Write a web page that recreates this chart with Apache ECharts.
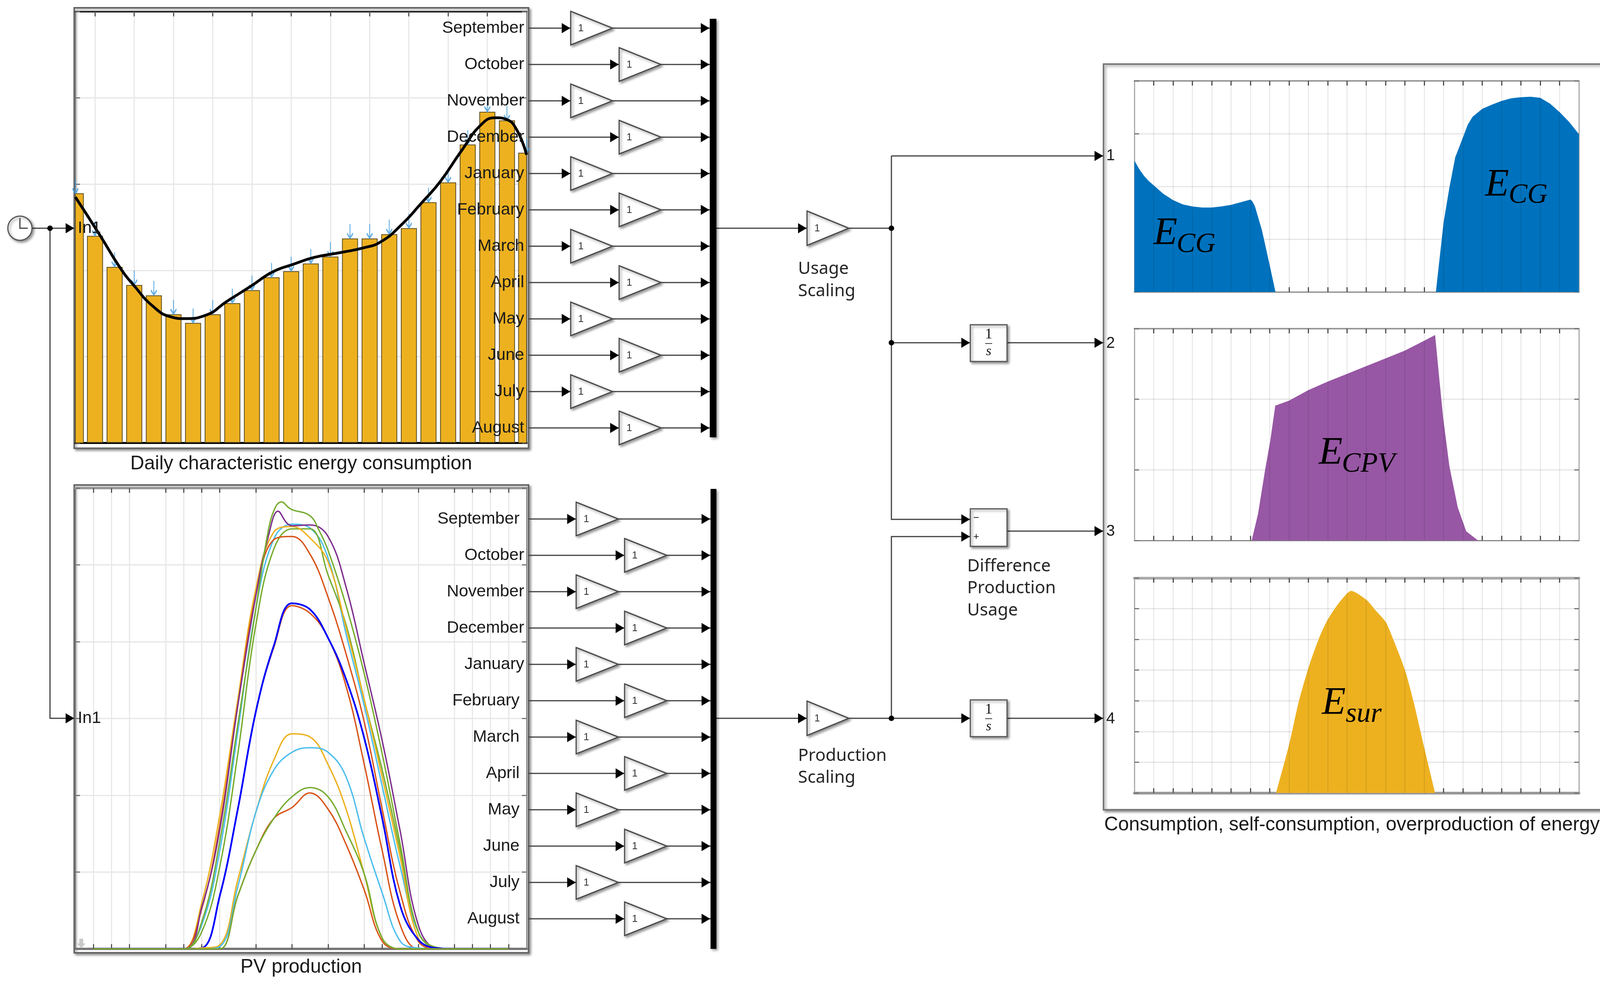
<!DOCTYPE html>
<html><head><meta charset="utf-8">
<style>html,body{margin:0;padding:0;background:#fff}#c{width:4138px;height:2523px}</style>
<script src="https://cdn.jsdelivr.net/npm/echarts@6/dist/echarts.min.js"></script>
</head><body><div id="c"></div>
<script>
const months=['September','October','November','December','January','February','March','April','May','June','July','August'];
const lowerLabelRight=[1330,1342,1342,1342,1342,1330,1330,1330,1330,1330,1330,1330];
const hours=[0,1,2,3,4,5,6,7,8,9,10,11,12,13,14,15,16,17,18,19,20,21,22,23];
const usageBars=[2.89,2.40,2.04,1.83,1.71,1.49,1.39,1.49,1.62,1.77,1.92,1.99,2.08,2.16,2.37,2.37,2.42,2.49,2.79,3.02,3.46,3.84,3.74,3.36];
const usageCurve=[[0,2.85],[1.3,2.39],[2.28,2.03],[3,1.82],[3.97,1.58],[4.87,1.46],[5.58,1.44],[6.65,1.48],[7.72,1.64],[8.97,1.82],[10.04,1.98],[11.1,2.07],[12.17,2.15],[13.6,2.21],[14.67,2.26],[15.56,2.33],[16.63,2.53],[17.6,2.77],[18.6,3.03],[19.66,3.38],[20.73,3.70],[21.44,3.77],[21.98,3.75],[22.5,3.63],[23,3.34]];
const usageGridHours=[1,3,5,7,9,11,13,15,17,19,21];
const pvGridHours=[0,1,2,4,5,6,7,9,11,13,15,16,18,20,21,22,23];
const scopeGridHours=[1,2,3,4,5,6,7,8,9,10,11,12,13,14,15,16,17,18,19,20,21,22];
const pvSky=[0,0,0,0,0,0,.31,1.28,2.83,4.43,5.34,5.53,5.48,5.09,4.10,3.17,2.12,1.07,.22,.01,0,0,0,0];
const pvGreen2=[0,0,0,0,0,0,.22,1.07,2.54,4.22,5.21,5.47,5.47,4.87,4.22,3.25,2.33,1.28,.22,.01,0,0,0,0];
const pvOrange=[0,0,0,0,0,0,.60,1.74,3.25,4.69,5.43,5.50,5.35,5.04,4.18,3.25,2.24,1.19,.14,.01,0,0,0,0];
const pvRed=[0,0,0,0,0,0,.52,1.61,3.17,4.60,5.33,5.37,5.14,4.58,3.84,2.96,1.82,.73,.10,0,0,0,0,0];
const pvPurple=[[0,0],[5,0],[6,.54],[7,1.55],[8,3.17],[9,4.60],[9.7,5.38],[10.23,5.70],[10.7,5.55],[11,5.51],[12,5.52],[13,5.37],[14,4.71],[15,3.72],[16,2.71],[17,1.53],[18,.31],[19,.01],[20,0],[23,0]];
const pvGreenTop=[[0,0],[5,0],[6,.35],[7,1.40],[8,2.92],[9,4.43],[9.7,5.46],[10.1,5.76],[10.42,5.82],[10.8,5.75],[11,5.72],[12,5.64],[12.5,5.45],[13,5.19],[14,4.47],[15,3.59],[16,2.54],[17,1.36],[18,.22],[19,.02],[20,0],[23,0]];
const pvBlue=[0,0,0,0,0,0,.01,.69,1.82,3.09,3.95,4.50,4.42,4.05,3.51,2.75,1.70,.56,.12,.01,0,0,0,0];
const pvRedB=[0,0,0,0,0,0,.01,.69,1.82,3.09,3.93,4.47,4.37,4.05,3.42,2.41,1.28,.31,0,0,0,0,0,0];
const pvOrangeC=[0,0,0,0,0,0,.01,.05,.90,1.78,2.46,2.80,2.76,2.40,1.82,.98,.14,0,0,0,0,0,0,0];
const pvSkyC=[0,0,0,0,0,0,0,.03,.81,1.78,2.33,2.56,2.62,2.56,2.24,1.44,.73,.10,.01,0,0,0,0,0];
const pvRedD=[0,0,0,0,0,0,0,0,.69,1.28,1.70,1.84,2.03,1.82,1.36,.77,.10,0,0,0,0,0,0,0];
const pvGreenD=[0,0,0,0,0,0,0,0,.69,1.28,1.70,1.98,2.10,1.98,1.53,.98,.14,0,0,0,0,0,0,0];
const gridConsumption=[[0,2.49],[.25,2.33],[.5,2.2],[.75,2.1],[1,2.02],[1.5,1.86],[2,1.74],[2.5,1.66],[3,1.62],[3.5,1.60],[4,1.60],[4.5,1.62],[5,1.65],[5.5,1.70],[6,1.75],[6.1,1.72],[6.24,1.62],[6.6,1.17],[7,.51],[7.3,0],[15.6,0],[16,1.32],[16.3,1.98],[16.6,2.55],[17,2.93],[17.25,3.17],[17.5,3.32],[18,3.47],[18.5,3.55],[19,3.62],[19.5,3.67],[20,3.69],[20.5,3.70],[21,3.68],[21.5,3.57],[22,3.41],[22.5,3.22],[23,2.99]];
const selfConsumption=[[6.07,0],[6.4,.38],[6.77,1.01],[7.03,1.41],[7.29,1.91],[8,1.98],[9,2.13],[10,2.25],[11,2.36],[12,2.47],[13,2.58],[14,2.69],[15,2.83],[15.56,2.91],[15.77,2.31],[15.98,1.73],[16.3,1.05],[16.73,.47],[17.17,.13],[17.78,0]];
const surplus=[[7.33,0],[8,1.56],[8.5,2.96],[9.04,4.14],[9.56,5.05],[10,5.64],[10.5,6.12],[10.98,6.48],[11.2,6.58],[12,6.29],[12.5,5.93],[13,5.57],[13.3,5.15],[14,4.0],[14.45,2.96],[15,1.47],[15.56,0]];

const SANS='"Liberation Sans",Arial,sans-serif', NOTO='"Noto Sans",sans-serif', SERIF='"Liberation Serif",serif';
const LINE='#404040', SHADOW={shadowColor:'rgba(0,0,0,.4)',shadowBlur:6,shadowOffsetX:4,shadowOffsetY:4};
const g=[];
function poly(points,style,z){g.push({type:'polyline',z:z||1,shape:{points},style:Object.assign({stroke:LINE,lineWidth:3,fill:null},style||{})});}
function arrow(x,y,z){g.push({type:'polygon',z:z||6,shape:{points:[[x-22,y-13],[x,y],[x-22,y+13]]},style:{fill:'#000'}});}
function txt(x,y,text,size,o){g.push({type:'text',z:(o&&o.z)||50,x,y,style:Object.assign({text,fontSize:size,fontFamily:SANS,fill:'#1a1a1a',align:'left',verticalAlign:'middle'},o||{})});}
function rect(x0,y0,x1,y1,style,z){g.push({type:'rect',z:z||0,shape:{x:x0,y:y0,width:x1-x0,height:y1-y0},style:Object.assign({fill:'#fff',stroke:'#555',lineWidth:3},style||{})});}
function gain(x,y,h,w){
  g.push({type:'polygon',z:4,shape:{points:[[x,y-h],[x+w,y],[x,y+h]]},style:Object.assign({fill:'#fff',stroke:'#484848',lineWidth:3},SHADOW)});
  txt(x+26,y+1,'1',26,{align:'center',fill:'#333'});
}
function integrator(x0,y0,x1,y1){
  rect(x0,y0,x1,y1,Object.assign({},SHADOW),4);
  const cx=(x0+x1)/2,cy=(y0+y1)/2;
  txt(cx,cy-22,'1',38,{align:'center',fontFamily:SERIF});
  poly([[cx-9,cy+1],[cx+9,cy+1]],{lineWidth:2},5);
  txt(cx,cy+22,'s',36,{align:'center',fontFamily:SERIF,fontStyle:'italic'});
}
function math(x,base,sub,subX,subBase){
  txt(x,base-30,'E',100,{fontFamily:SERIF,fontStyle:'italic',fill:'#000'});
  txt(subX,subBase-22,sub,72,{fontFamily:SERIF,fontStyle:'italic',fill:'#000'});
}
// frames
rect(190,20,1353,1147,Object.assign({lineWidth:4,stroke:'#666'},SHADOW),0);
rect(190,1241,1353,2438,Object.assign({lineWidth:4,stroke:'#666'},SHADOW),0);
rect(2825,164,4112,2072,Object.assign({lineWidth:4,stroke:'#777'},SHADOW),0);
// clock
g.push({type:'circle',z:4,shape:{cx:51,cy:584,r:31},style:Object.assign({fill:'#fff',stroke:'#555',lineWidth:3},SHADOW)});
poly([[51,558],[51,584],[71,584]],{lineWidth:3},5);
poly([[82,584],[190,584]]);arrow(190,584);
g.push({type:'circle',z:6,shape:{cx:128,cy:584,r:7},style:{fill:'#000'}});
poly([[128,584],[128,1838],[190,1838]]);arrow(190,1838);
txt(199,584,'In1',43);txt(199,1838,'In1',43);
// month rows
months.forEach((m,i)=>{
  const y=72+93*i, left=i%2?1585:1461;
  txt(1342,y,m,43,{align:'right'});
  poly([[1353,y],[left,y]]);arrow(left-1,y);gain(left,y,43,107);
  poly([[left+107,y],[1817,y]]);arrow(1816,y);
  const y2=1328+93*i, left2=i%2?1599:1475;
  txt(lowerLabelRight[i],y2,m,43,{align:'right'});
  poly([[1353,y2],[left2,y2]]);arrow(left2-1,y2);gain(left2,y2,43,108);
  poly([[left2+108,y2],[1819,y2]]);arrow(1818,y2);
});
rect(1817,48,1834,1119,Object.assign({fill:'#000',stroke:null},SHADOW),4);
rect(1819,1251,1834,2428,Object.assign({fill:'#000',stroke:null},SHADOW),4);
// right-hand diagram
poly([[1834,584],[2066,584]]);arrow(2065,584);gain(2066,584,44,107);
poly([[2173,584],[2282,584]]);
poly([[2282,399],[2282,1329],[2484,1329]]);
poly([[2282,399],[2825,399]]);arrow(2824,399);
g.push({type:'circle',z:6,shape:{cx:2282,cy:584,r:7},style:{fill:'#000'}});
g.push({type:'circle',z:6,shape:{cx:2282,cy:877,r:7},style:{fill:'#000'}});
poly([[2282,877],[2484,877]]);arrow(2483,877);integrator(2484,831,2578,925);
poly([[2578,877],[2825,877]]);arrow(2824,877);
arrow(2483,1329);arrow(2483,1373);
rect(2484,1302,2578,1398,Object.assign({},SHADOW),4);
txt(2499,1326,'−',26,{align:'center'});txt(2499,1374,'+',26,{align:'center'});
poly([[2578,1359],[2825,1359]]);arrow(2824,1359);
poly([[1834,1838],[2066,1838]]);arrow(2065,1838);gain(2066,1838,44,107);
poly([[2173,1838],[2484,1838]]);arrow(2483,1838);
poly([[2282,1838],[2282,1373],[2484,1373]]);
g.push({type:'circle',z:6,shape:{cx:2282,cy:1838,r:7},style:{fill:'#000'}});
integrator(2484,1791,2578,1885);
poly([[2578,1838],[2825,1838]]);arrow(2824,1838);
txt(2832,399,'1',40);txt(2832,879,'2',40);txt(2832,1360,'3',40);txt(2832,1840,'4',40);
const T={fontFamily:NOTO,fill:'#262626'};
txt(2043,688,'Usage',44,T);txt(2043,745,'Scaling',44,T);
txt(2476,1449,'Difference',44,T);txt(2476,1505,'Production',44,T);txt(2476,1562,'Usage',44,T);
txt(2043,1934,'Production',44,T);txt(2043,1990,'Scaling',44,T);
txt(771,1187,'Daily characteristic energy consumption',49.5,{align:'center'});
txt(771,2475,'PV production',49.5,{align:'center'});
txt(3461,2111,'Consumption, self-consumption, overproduction of energy',49.5,{align:'center'});
math(2953,628,'CG',3012,648);
math(3802,504,'CG',3862,522);
math(3376,1190,'CPV',3435,1210);
math(3384,1830,'sur',3445,1850);
g.push({type:'polygon',z:40,shape:{points:[[203,2402],[213,2402],[213,2414],[219,2414],[208,2426],[197,2414],[203,2414]]},style:{fill:'#c8c8c8'}});

// chart axes
const grids=[],xAxes=[],yAxes=[],series=[];
function plot(box,xr,yMax,tickVals,o){
  const i=grids.length;
  grids.push({left:box[0],top:box[1],width:box[2]-box[0],height:box[3]-box[1],show:false});
  const base=(position,line,split)=>({type:'value',gridIndex:i,position,min:xr[0],max:xr[1],
    axisLabel:{show:false},axisLine:{show:true,onZero:false,lineStyle:line},
    axisTick:{show:true,inside:true,length:12,customValues:tickVals,lineStyle:{color:'#555',width:3}},
    splitLine:{show:split,lineStyle:{color:'#e8e8e8',width:3}}});
  xAxes.push(base('bottom',o.bottom,!o.noVSplit));
  xAxes.push(base('top',o.top,false));
  const yBase=(position,split)=>({type:'value',gridIndex:i,min:0,max:yMax,interval:1,position,
    axisLabel:{show:false},axisLine:{show:true,onZero:false,lineStyle:o.side},
    axisTick:{show:true,inside:true,length:12,lineStyle:{color:'#777',width:3}},
    splitLine:{show:split,lineStyle:{color:'#e6e6e6',width:o.hw||3}}});
  yAxes.push(yBase('left',true));
  yAxes.push(yBase('right',false));
  return {x:2*i,y:2*i};
}
const BAR_W=41, barStyle={color:'#edb120',borderColor:'#5c4d22',borderWidth:2};
const A=plot([193,30,1348,1133],[0,23],5,usageGridHours,{bottom:{color:'#000',width:5},top:{color:'#222',width:4},side:{color:'#888',width:3}});
// the two bars that sit on the axis ends are cut by the plot edge; a bar series on a value axis does not clip them
const edge=k=>k===0||k===hours.length-1;
series.push({type:'bar',xAxisIndex:A.x,yAxisIndex:A.y,barWidth:BAR_W,z:3,data:hours.map((h,k)=>[h,usageBars[k]]).filter((d,k)=>!edge(k)),itemStyle:barStyle});
series.push({type:'custom',xAxisIndex:A.x,yAxisIndex:A.y,z:3,encode:{x:0,y:1},data:hours.map((h,k)=>[h,usageBars[k]]).filter((d,k)=>edge(k)),itemStyle:barStyle,
  renderItem(params,api){
    const top=api.coord([api.value(0),api.value(1)]),base=api.coord([api.value(0),0]),c=params.coordSys;
    const shape=echarts.graphic.clipRectByRect({x:top[0]-BAR_W/2,y:top[1],width:BAR_W,height:base[1]-top[1]},{x:c.x,y:c.y,width:c.width,height:c.height});
    return shape&&{type:'rect',shape,style:api.style()};
  }});
series.push({type:'scatter',xAxisIndex:A.x,yAxisIndex:A.y,clip:false,z:4,silent:true,symbol:'path://M5 0V30M0 20L5 30L10 20',symbolSize:[15,36],symbolOffset:[0,-19],itemStyle:{color:'rgba(0,0,0,0)',borderColor:'#3f9bdc',borderWidth:3.5},data:hours.map((h,k)=>[h,usageBars[k]])});
series.push({type:'line',xAxisIndex:A.x,yAxisIndex:A.y,z:5,showSymbol:false,smooth:.5,data:usageCurve,lineStyle:{color:'#000',width:7}});

const B=plot([193,1249,1348,2428],[-1,24],6,pvGridHours,{bottom:{color:'#777',width:6},top:{color:'#999',width:6},side:{color:'#888',width:3}});
const hourly=arr=>hours.map((h,j)=>[h,arr[j]]);
[[hourly(pvSky),'#4dbeee'],[hourly(pvGreen2),'#77ac30'],[hourly(pvOrange),'#edb120'],[hourly(pvRed),'#d95319'],[pvPurple,'#7e2f8e'],[pvGreenTop,'#77ac30'],
 [hourly(pvRedB),'#d95319'],[hourly(pvBlue),'#0000ff'],[hourly(pvOrangeC),'#edb120'],[hourly(pvSkyC),'#4dbeee'],[hourly(pvRedD),'#d95319'],[hourly(pvGreenD),'#77ac30']].forEach(([data,color],k)=>{
  series.push({type:'line',xAxisIndex:B.x,yAxisIndex:B.y,z:3+k,showSymbol:false,smooth:.4,clip:true,
    data,lineStyle:{color,width:color==='#0000ff'?4.5:3.5}});
});

const scopeAxis={bottom:{color:'#888',width:3},top:{color:'#999',width:4},side:{color:'#aaa',width:3},noVSplit:true};
function area(box,yMax,data,color,smooth,o){
  const P=plot(box,[0,23],yMax,scopeGridHours,Object.assign({},scopeAxis,o||{}));
  series.push({type:'line',xAxisIndex:P.x,yAxisIndex:P.y,z:3,showSymbol:false,smooth,data,lineStyle:{width:0,color},areaStyle:{color,opacity:1},
    markLine:{silent:true,symbol:'none',label:{show:false},lineStyle:{color:'rgba(0,0,0,.08)',width:3,type:'solid'},data:scopeGridHours.map(v=>({xAxis:v}))}});
}
area([2904,207,4042,747],4,gridConsumption,'#0072bd',false);
area([2904,841,4042,1383],3,selfConsumption,'#9757a4',false);
area([2904,1479,4042,2029],7,surplus,'#edb120',.25,{bottom:{color:'#999',width:7},top:{color:'#aaa',width:7}});

const chart=echarts.init(document.getElementById('c'),null,{renderer:'canvas',width:4138,height:2523});
chart.setOption({animation:false,backgroundColor:'#fff',grid:grids,xAxis:xAxes,yAxis:yAxes,series,graphic:{elements:g}});
</script></body></html>
